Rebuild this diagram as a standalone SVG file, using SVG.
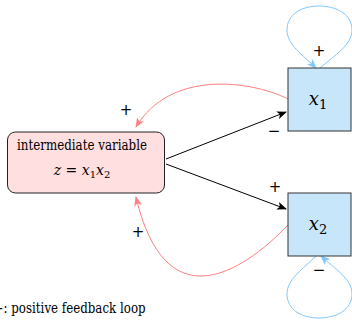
<svg xmlns="http://www.w3.org/2000/svg" width="352" height="320" viewBox="0 0 352 320">
<defs>
<marker id="ab" viewBox="0 0 10 8" refX="9" refY="4" markerWidth="10" markerHeight="8" markerUnits="userSpaceOnUse" orient="auto"><path d="M0,0 L10,4 L0,8 L2.5,4 z" fill="#000"/></marker>
<marker id="ar" viewBox="0 0 10 8" refX="9" refY="4" markerWidth="10" markerHeight="8" markerUnits="userSpaceOnUse" orient="auto"><path d="M0,0 L10,4 L0,8 L2.5,4 z" fill="#ff8080"/></marker>
<marker id="au" viewBox="0 0 10 8" refX="9" refY="4" markerWidth="10" markerHeight="8" markerUnits="userSpaceOnUse" orient="auto"><path d="M0,0 L10,4 L0,8 L2.5,4 z" fill="#80c8ff"/></marker>
</defs>
<style>
.t{font-family:"DejaVu Serif",serif;font-size:14px;fill:#000}
.m{font-family:"DejaVu Serif",serif;font-style:italic;fill:#000}
.sg{font-family:"DejaVu Sans",sans-serif;font-size:15px;fill:#000;text-anchor:middle}
.blk{fill:none;stroke:#000;stroke-width:1}
.red{fill:none;stroke:#ff8080;stroke-width:1}
.blu{fill:none;stroke:#80c8ff;stroke-width:1}
.var{fill:#c8e6fa;stroke:#333;stroke-width:1}
</style>
<g id="connectors">
<path class="blk" d="M166,159 L286,112" marker-end="url(#ab)"/>
<path class="blk" d="M166,164 L286,209" marker-end="url(#ab)"/>
<path class="red" d="M288,99 C250,80 170,70 136,127" marker-end="url(#ar)"/>
<path class="red" d="M288,225 C240,275 165,320 136,197" marker-end="url(#ar)"/>
<path class="blu" d="M320,68 C335,55 352,45 352,30 C352,14 336,6 319,6 C302,6 287,14 287,30 C287,45 303,55 316,68" marker-end="url(#au)"/>
<path class="blu" d="M316,256 C303,269 287,279 287,294 C287,310 302,318 319,318 C336,318 352,310 352,294 C352,279 335,269 321,256" marker-end="url(#au)"/>
<text class="sg" x="126" y="115">+</text>
<text class="sg" x="274" y="136">−</text>
<text class="sg" x="275" y="192">+</text>
<text class="sg" x="138" y="237">+</text>
<text class="sg" x="319" y="56">+</text>
<text class="sg" x="319" y="275">−</text>
</g>
<g id="intermediate">
<rect x="7.5" y="132" width="157" height="61" rx="8" fill="#ffdfdf" stroke="#222" stroke-width="1"/>
<text class="t" x="17" y="150" textLength="130" lengthAdjust="spacingAndGlyphs">intermediate variable</text>
<text class="m" x="82" y="175" text-anchor="middle" font-size="14">z <tspan font-style="normal">=</tspan> x<tspan font-size="10" font-style="normal" dy="3">1</tspan><tspan dy="-3">x</tspan><tspan font-size="10" font-style="normal" dy="3">2</tspan></text>
</g>
<g id="x1">
<rect class="var" x="288" y="68" width="63" height="63"/>
<text class="m" x="318" y="105" text-anchor="middle" font-size="18">x<tspan font-size="13" font-style="normal" dy="4">1</tspan></text>
</g>
<g id="x2">
<rect class="var" x="288" y="193" width="63" height="63"/>
<text class="m" x="318" y="230" text-anchor="middle" font-size="18">x<tspan font-size="13" font-style="normal" dy="4">2</tspan></text>
</g>
<g id="legend">
<text class="t" x="-6.4" y="313" textLength="152" lengthAdjust="spacingAndGlyphs">+: positive feedback loop</text>
</g>
</svg>
